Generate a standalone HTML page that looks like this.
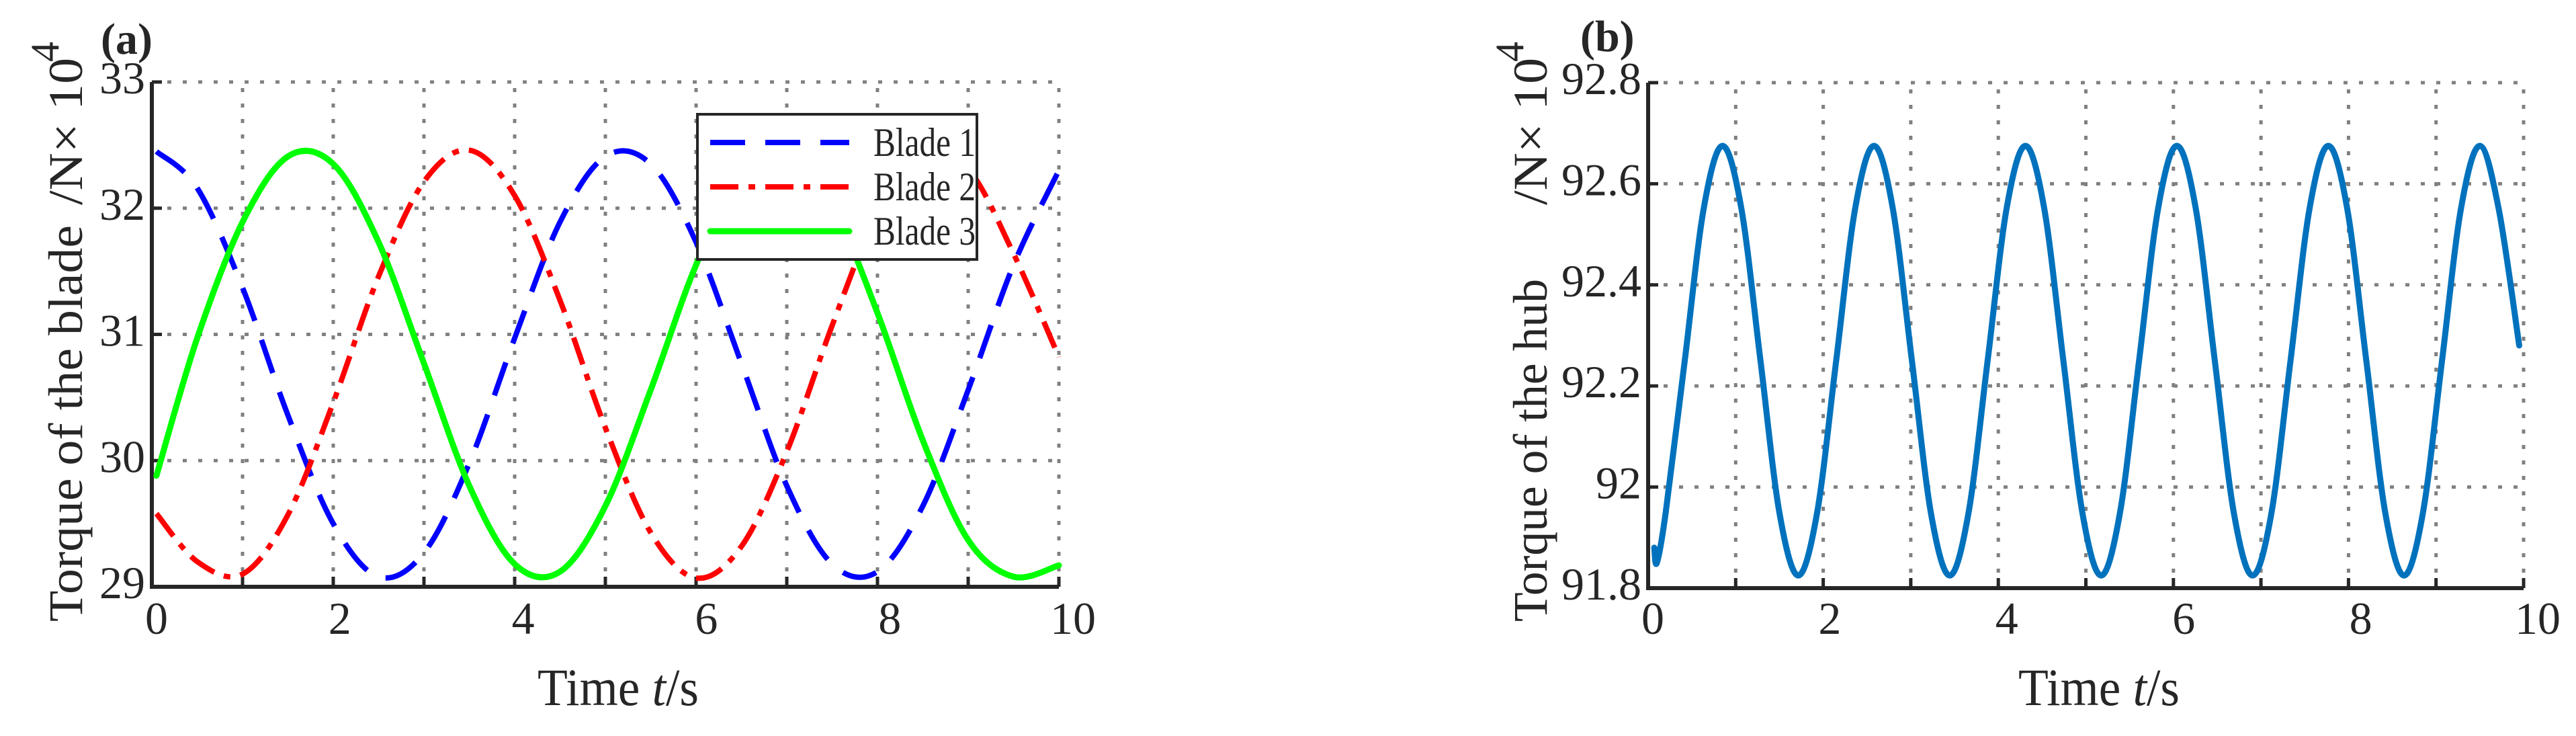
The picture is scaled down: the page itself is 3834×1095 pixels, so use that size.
<!DOCTYPE html>
<html><head><meta charset="utf-8"><style>
html,body{margin:0;padding:0;background:#fff;}
svg{display:block;}
svg text{font-family:"Liberation Serif","Times New Roman",serif;fill:#262626;}
</style></head><body>
<svg id="fig" width="3834" height="1095" viewBox="0 0 3834 1095" xmlns="http://www.w3.org/2000/svg" font-family="Liberation Serif, serif">
<g id="pa"></g>
<g id="pb"></g>
</svg>
<script>
// ---- Panel (a) data ----
const bladeTimes = [0.05,0.5,1,1.5,2,2.5,3,3.5,4,4.5,5,5.5,6,6.5,7,7.5,8,8.5,9,9.5,10];
const blade1 = [32.45,32.16,31.37,30.36,29.50,29.08,29.27,29.98,30.97,31.89,32.41,32.35,31.73,30.77,29.80,29.18,29.12,29.64,30.56,31.55,32.30];
const blade2 = [29.58,29.20,29.10,29.57,30.46,31.46,32.21,32.46,32.10,31.27,30.26,29.43,29.07,29.32,30.07,31.07,31.96,32.43,32.31,31.64,30.82];
const blade3 = [29.88,30.97,31.89,32.41,32.35,31.73,30.77,29.80,29.18,29.12,29.64,30.56,31.55,32.27,32.45,32.03,31.17,30.16,29.37,29.08,29.17];
const aYTicks = [29,30,31,32,33];
const aXTicks = [0,2,4,6,8,10];
const legendLabels = ["Blade 1","Blade 2","Blade 3"];
// ---- Panel (b) data ----
const hubTimes = [0.07,0.1,0.201,0.418,0.634,0.850,1.066,1.283,1.499,1.715,1.931,2.148,2.364,2.580,2.796,3.013,3.229,3.445,3.661,3.878,4.094,4.310,4.526,4.743,4.959,5.175,5.391,5.608,5.824,6.040,6.256,6.473,6.689,6.905,7.121,7.338,7.554,7.770,7.986,8.203,8.419,8.635,8.851,9.068,9.284,9.500,9.716,9.95];
const hubTorque = [91.88,91.85,91.95,92.25,92.55,92.675,92.55,92.25,91.95,91.825,91.95,92.25,92.55,92.675,92.55,92.25,91.95,91.825,91.95,92.25,92.55,92.675,92.55,92.25,91.95,91.825,91.95,92.25,92.55,92.675,92.55,92.25,91.95,91.825,91.95,92.25,92.55,92.675,92.55,92.25,91.95,91.825,91.95,92.25,92.55,92.675,92.55,92.28];
const bYTicks = [91.8,92,92.2,92.4,92.6,92.8];
const bYLabels = ["91.8","92","92.2","92.4","92.6","92.8"];
const bXTicks = [0,2,4,6,8,10];

const NS="http://www.w3.org/2000/svg";
const FF='Liberation Serif, serif';
function mk(parent,tag,attrs,txt){const e=document.createElementNS(NS,tag);for(const k in attrs)e.setAttribute(k,attrs[k]);if(tag==='text')e.setAttribute('font-family',FF);if(txt!==undefined)e.textContent=txt;parent.appendChild(e);return e;}
function smooth(pts){let d="M"+pts[0][0].toFixed(1)+","+pts[0][1].toFixed(1);
 for(let i=0;i<pts.length-1;i++){const p0=pts[Math.max(0,i-1)],p1=pts[i],p2=pts[i+1],p3=pts[Math.min(pts.length-1,i+2)];
  const c1=[p1[0]+(p2[0]-p0[0])/6,p1[1]+(p2[1]-p0[1])/6],c2=[p2[0]-(p3[0]-p1[0])/6,p2[1]-(p3[1]-p1[1])/6];
  d+="C"+c1[0].toFixed(1)+","+c1[1].toFixed(1)+" "+c2[0].toFixed(1)+","+c2[1].toFixed(1)+" "+p2[0].toFixed(1)+","+p2[1].toFixed(1);}
 return d;}

function axes(g,L,R,T,B,xmin,xmax,ymin,ymax,yticks,ylabels,xticks){
 const X=v=>L+(v-xmin)/(xmax-xmin)*(R-L), Y=v=>B-(v-ymin)/(ymax-ymin)*(B-T);
 for(let v=xmin+1;v<=xmax;v++){const l=mk(g,'line',{x1:X(v),x2:X(v),y1:B,y2:T,stroke:'#808080','stroke-width':5,'stroke-dasharray':'6 17'});
  
  }
 yticks.forEach((v,i)=>{if(i===0)return;const l=mk(g,'line',{x1:L,x2:R,y1:Y(v),y2:Y(v),stroke:'#808080','stroke-width':5,'stroke-dasharray':'6 17'});
  
  });
 for(let v=xmin;v<=xmax;v++){const t=mk(g,'line',{x1:X(v),x2:X(v),y1:B,y2:B-15,stroke:'#262626','stroke-width':5});
  
  }
 yticks.forEach(v=>{const t=mk(g,'line',{x1:L,x2:L+15,y1:Y(v),y2:Y(v),stroke:'#262626','stroke-width':5});
  
  });
 const ax=mk(g,'path',{d:`M${L},${T} L${L},${B} L${R},${B}`,fill:'none',stroke:'#262626','stroke-width':6});
 
 
 xticks.forEach(v=>{const t=mk(g,'text',{x:X(v)+7+v*1.4,y:943,'font-size':68,'text-anchor':'middle'},String(v));
  
  });
 yticks.forEach((v,i)=>{const t=mk(g,'text',{x:L-10,y:Y(v)+17,'font-size':68,'text-anchor':'end'},ylabels[i]);
  
  });
 return [X,Y];
}

// Panel A
const ga=document.getElementById('pa');
const [ax,ay]=axes(ga,226,1576,122,873,0,10,29,33,aYTicks,aYTicks.map(String),aXTicks);
const styles=[{c:'#0000ff',d:'52 30',w:8},{c:'#ff0000',d:'42 15 10 15',w:8},{c:'#00ff00',d:'',w:9}];
[blade1,blade2,blade3].forEach((s,k)=>{const pts=bladeTimes.map((t,i)=>[ax(t),ay(s[i])]);
 const p=mk(ga,'path',{d:smooth(pts),fill:'none',stroke:styles[k].c,'stroke-width':styles[k].w,'stroke-dasharray':styles[k].d||'none','stroke-linecap':k==2?'round':'butt'});
 
 });
const lg=mk(ga,'g',{});


mk(lg,'rect',{x:1038,y:170,width:416,height:216,fill:'#fff',stroke:'#262626','stroke-width':4});
const ly=[212,278,344];
legendLabels.forEach((lab,k)=>{const l=mk(lg,'line',{x1:1057,x2:1264,y1:ly[k],y2:ly[k],stroke:styles[k].c,'stroke-width':styles[k].w,'stroke-dasharray':styles[k].d||'none','stroke-linecap':k==2?'round':'butt'});
 
 
 const t=mk(lg,'text',{x:1300,y:ly[k]+20,'font-size':60,textLength:152,lengthAdjust:'spacingAndGlyphs'},lab);
 
 });

// Panel B
const gb=document.getElementById('pb');
const [bx,by]=axes(gb,2453,3756,123,875,0,10,91.8,92.8,bYTicks,bYLabels,bXTicks);
const hp=mk(gb,'path',{d:smooth(hubTimes.map((t,i)=>[bx(t),by(hubTorque[i])])),fill:'none',stroke:'#0072BD','stroke-width':9,'stroke-linecap':'round'});



// Labels
function ylab(g,xb,main,mainLen){
 const t=mk(g,'text',{transform:`translate(${xb},925) rotate(-90)`,'font-size':72,x:0,y:0,textLength:mainLen,lengthAdjust:'spacingAndGlyphs'},main);
 
 
 const u=mk(g,'text',{transform:`translate(${xb},305) rotate(-90)`,'font-size':72,textLength:219,lengthAdjust:'spacingAndGlyphs'},'/N\u00d7 10');
 
 
 const s=mk(g,'text',{transform:`translate(${xb-35},92) rotate(-90)`,'font-size':60},'4');
 
 
}
ylab(ga,122,'Torque of the blade',590);
ylab(gb,2302,'Torque of the hub',510);
function xlab(g,x){const t=mk(g,'text',{x:x,y:1049,'font-size':78,textLength:240,lengthAdjust:'spacingAndGlyphs'});
 
 
 t.innerHTML='Time <tspan font-style="italic">t</tspan>/s';}
xlab(ga,800);xlab(gb,3004);
const pa=mk(ga,'text',{x:150,y:80,'font-size':66,'font-weight':'bold'},'(a)');


const pbl=mk(gb,'text',{x:2352,y:76,'font-size':66,'font-weight':'bold'},'(b)');


</script>
</body></html>
